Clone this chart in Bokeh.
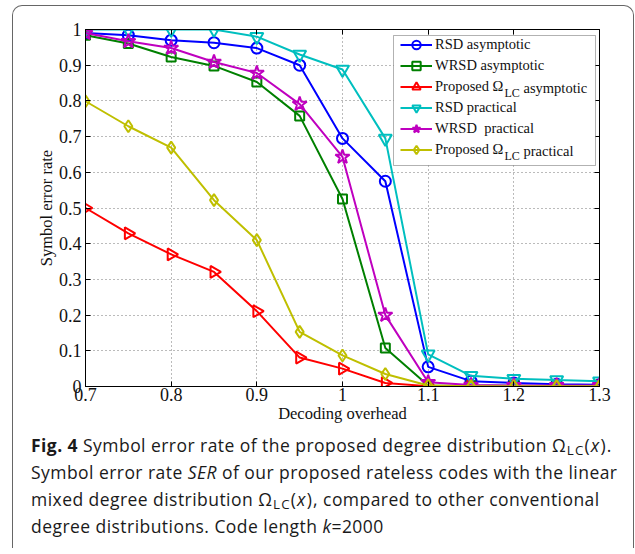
from bokeh.plotting import figure
from bokeh.models import (Range1d, FixedTicker, LinearAxis, Legend, LegendItem,
                          Label, BoxAnnotation, Div)
from bokeh.layouts import column, row
from bokeh.embed import file_html
from bokeh.resources import INLINE
import math

# ---------------- data ----------------
overhead = [0.70, 0.75, 0.80, 0.85, 0.90, 0.95, 1.00, 1.05, 1.10, 1.15, 1.20, 1.25, 1.30]
rsd_asym = [0.990, 0.984, 0.970, 0.963, 0.948, 0.900, 0.695, 0.575, 0.055, 0.015, 0.010, 0.006, 0.005]
wrsd_asym = [0.984, 0.961, 0.923, 0.898, 0.853, 0.758, 0.525, 0.108, 0.003, 0.002, 0.002, 0.001, 0.001]
prop_asym = [0.500, 0.429, 0.370, 0.321, 0.211, 0.081, 0.050, 0.010, 0.001, 0.001, 0.001, 0.001, 0.001]
rsd_prac = [1.000, 1.000, 1.000, 1.000, 0.980, 0.930, 0.888, 0.695, 0.090, 0.030, 0.022, 0.018, 0.015]
wrsd_prac = [0.990, 0.967, 0.948, 0.909, 0.878, 0.791, 0.643, 0.200, 0.012, 0.004, 0.003, 0.003, 0.003]
prop_prac = [0.799, 0.729, 0.669, 0.522, 0.410, 0.153, 0.087, 0.035, 0.003, 0.001, 0.001, 0.001, 0.001]

x_ticks = [0.7, 0.8, 0.9, 1.0, 1.1, 1.2, 1.3]
x_tick_labels = ["0.7", "0.8", "0.9", "1", "1.1", "1.2", "1.3"]
y_ticks = [0.0, 0.1, 0.2, 0.3, 0.4, 0.5, 0.6, 0.7, 0.8, 0.9, 1.0]
y_tick_labels = ["0", "0.1", "0.2", "0.3", "0.4", "0.5", "0.6", "0.7", "0.8", "0.9", "1"]

legend_labels = ["RSD asymptotic", "WRSD asymptotic", "Proposed \u03a9",
                 "RSD practical", "WRSD  practical", "Proposed \u03a9"]
legend_tails = [None, None, "asymptotic", None, None, "practical"]
series_values = [rsd_asym, wrsd_asym, prop_asym, rsd_prac, wrsd_prac, prop_prac]
series_colors = ["#0000ff", "#008000", "#ff0000", "#00bfbf", "#bf00bf", "#bfbf00"]
series_markers = ["circle", "square", "triangle", "inverted_triangle", "star", "diamond"]
series_sizes = [11, 9, 12, 13, 15, 12]
series_angles = [0, 0, -math.pi / 2, 0, 0, 0]

SERIF = "Liberation Serif"
TXT = "#111111"
FRAME_GRAY = "#666666"

FIG_W, FIG_H = 620, 415

p = figure(width=FIG_W, height=FIG_H,
           x_range=Range1d(0.7, 1.3), y_range=Range1d(0, 1),
           output_backend="svg", toolbar_location=None,
           min_border_left=72, min_border_right=34, min_border_top=14, min_border_bottom=44)
p.background_fill_color = "white"
p.border_fill_color = "white"
p.outline_line_color = "black"
p.outline_line_width = 1

for ax, ticks, labels in ((p.xaxis[0], x_ticks, x_tick_labels), (p.yaxis[0], y_ticks, y_tick_labels)):
    ax.ticker = FixedTicker(ticks=ticks)
    ax.major_label_overrides = {t: l for t, l in zip(ticks, labels)}
    ax.major_tick_in = 5
    ax.major_tick_out = 0
    ax.minor_tick_line_color = None
    ax.axis_line_color = "black"
    ax.major_tick_line_color = "black"
    ax.major_label_text_font = SERIF
    ax.major_label_text_font_size = "18px"
    ax.major_label_text_color = TXT
    ax.axis_label_text_font = SERIF
    ax.axis_label_text_font_size = "16.5px"
    ax.axis_label_text_font_style = "normal"
    ax.axis_label_text_color = TXT

p.xaxis.axis_label = "Decoding overhead"
p.yaxis.axis_label = "Symbol error rate"
p.xaxis.major_label_standoff = 1
p.xaxis.axis_label_standoff = 0
p.yaxis.major_label_standoff = 4
p.yaxis.axis_label_standoff = 0

for loc, ticks in (("right", y_ticks), ("above", x_ticks)):
    ax = LinearAxis(ticker=FixedTicker(ticks=ticks), major_tick_in=5, major_tick_out=0,
                    minor_tick_line_color=None, major_label_text_color=None,
                    major_label_standoff=0, axis_line_color="black")
    p.add_layout(ax, loc)

p.xgrid.ticker = FixedTicker(ticks=x_ticks)
p.ygrid.ticker = FixedTicker(ticks=y_ticks)
for g in (p.xgrid[0], p.ygrid[0]):
    g.grid_line_color = "#777777"
    g.grid_line_dash = "1 3"
    g.grid_line_width = 1

items = []
for lab, vals, col, mk, sz, ang in zip(legend_labels, series_values, series_colors,
                                       series_markers, series_sizes, series_angles):
    rl = p.line(overhead, vals, line_color=col, line_width=2)
    rs = p.scatter(overhead, vals, marker=mk, size=sz, angle=ang, line_color=col,
                   line_width=2, fill_color=None)
    items.append(LegendItem(label=lab, renderers=[rl, rs]))

# legend frame (MATLAB style box)
box = BoxAnnotation(left=380, right=582, top=20, bottom=150,
                    left_units="canvas", right_units="canvas",
                    top_units="canvas", bottom_units="canvas",
                    fill_color="white", fill_alpha=1, line_color="black", line_width=1)
p.add_layout(box)

legend = Legend(items=items, location=(315, 226), padding=0, margin=0, spacing=0,
                glyph_width=32, glyph_height=21, label_standoff=3,
                label_text_font=SERIF, label_text_font_size="14.5px",
                label_text_color=TXT, border_line_color=None,
                background_fill_alpha=0)
p.add_layout(legend)

# subscript "LC" and the rest of the two "Proposed" legend entries
row0 = 30.2
for i, tail in enumerate(legend_tails):
    if tail is None:
        continue
    yy = row0 + 21 * i
    p.add_layout(Label(x=491, y=yy + 5.5, x_units="canvas", y_units="canvas", text="LC",
                       text_font=SERIF, text_font_size="12px", text_baseline="middle",
                       text_color=TXT))
    p.add_layout(Label(x=510, y=yy, x_units="canvas", y_units="canvas", text=tail,
                       text_font=SERIF, text_font_size="14.5px", text_baseline="middle",
                       text_color=TXT))

# ---------- outer rounded panel frame and caption ----------
top_edge = Div(text="", width=FIG_W + 2, height=10, margin=0,
               styles={"box-sizing": "border-box",
                       "border-top": "1px solid " + FRAME_GRAY,
                       "border-left": "1px solid " + FRAME_GRAY,
                       "border-right": "1px solid " + FRAME_GRAY,
                       "border-radius": "10px 10px 0 0"})
left_edge = Div(text="", width=1, height=FIG_H, margin=0,
                styles={"background-color": FRAME_GRAY})
right_edge = Div(text="", width=1, height=FIG_H, margin=0,
                 styles={"background-color": FRAME_GRAY})

omega = ("<span style='letter-spacing:1.2px'>\u03a9<sub style='font-size:76%;line-height:0;"
         "vertical-align:-0.25em'>LC</sub>(<i>x</i>)</span>")
caption = ("<b>Fig. 4</b> Symbol error rate of the proposed degree distribution " + omega +
           ".<br>Symbol error rate <i>SER</i> of our proposed rateless codes with the linear"
           "<br>mixed degree distribution " + omega +
           ", compared to other conventional<br>degree distributions. Code length <i>k</i>=2000")

div = Div(text=caption, width=FIG_W + 2, height=118, margin=0,
          styles={"font-family": "'Open Sans', sans-serif", "font-size": "17.5px",
                  "letter-spacing": "0.45px", "box-sizing": "border-box",
                  "line-height": "27px", "color": "#1a1a1a", "padding-left": "18px",
                  "padding-top": "2px", "white-space": "nowrap",
                  "border-left": "1px solid " + FRAME_GRAY,
                  "border-right": "1px solid " + FRAME_GRAY})

layout = column(top_edge, row(left_edge, p, right_edge, spacing=0), div, spacing=0,
                styles={"margin-left": "12px", "margin-top": "5px"})

open("out.html", "w").write(file_html(layout, INLINE))
